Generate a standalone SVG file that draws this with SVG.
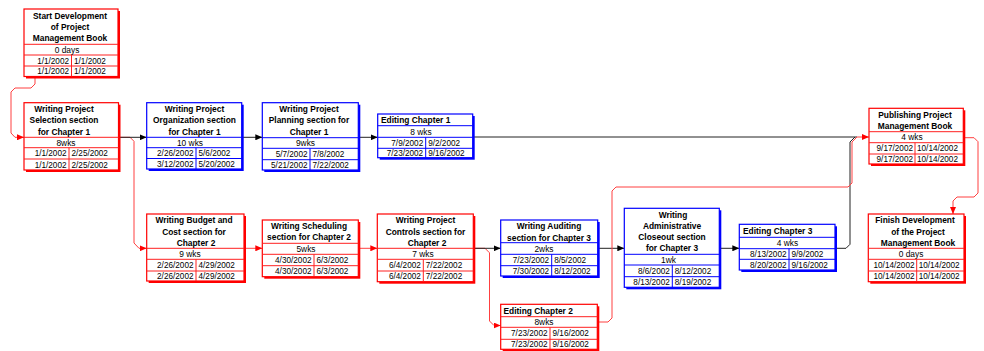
<svg xmlns="http://www.w3.org/2000/svg" width="984" height="351" viewBox="0 0 984 351">
<style>
text{font-family:"Liberation Sans",Arial,sans-serif;fill:#000}
.t{font-size:8.4px;font-weight:bold;text-anchor:middle}
.tl{font-size:8.4px;font-weight:bold;text-anchor:start}
.u{font-size:8.4px;text-anchor:middle}
.dl{font-size:8.2px;text-anchor:end}
.dr{font-size:8.2px;text-anchor:start}
.red .sh{fill:#ff0000}
.red .bx{fill:#fff;stroke:#ff0000;stroke-width:1.2}
.red .ln{stroke:#ff2020;stroke-width:1;fill:none}
.blue .sh{fill:#0000ff}
.blue .bx{fill:#fff;stroke:#0000ff;stroke-width:1.2}
.blue .ln{stroke:#0000ff;stroke-width:1;fill:none}
.ck{fill:none;stroke:#222;stroke-width:1}
.cr{fill:none;stroke:#ff4040;stroke-width:1}
</style>
<defs>
<marker id="ak" markerUnits="userSpaceOnUse" markerWidth="8" markerHeight="6" refX="7" refY="3" orient="auto"><path d="M0,0 L7,3 L0,6 z" fill="#000"/></marker>
<marker id="ar" markerUnits="userSpaceOnUse" markerWidth="8" markerHeight="6" refX="7" refY="3" orient="auto"><path d="M0,0 L7,3 L0,6 z" fill="#ff0000"/></marker>
</defs>

<g id="connectors">
<path class="cr" d="M35,77 V84 L31,88 H15 L11,92 V133 L15,137.3 H24" marker-end="url(#ar)"/>
<path class="cr" d="M118.5,137.3 H130 L134,141.3 V243 L139,248.3 H146.7" marker-end="url(#ar)"/>
<path class="ck" d="M118.5,137.3 H146.7" marker-end="url(#ak)"/>
<path class="ck" d="M241.7,137.3 H262.3" marker-end="url(#ak)"/>
<path class="ck" d="M358.3,137.3 H377.7" marker-end="url(#ak)"/>
<path class="ck" d="M472.7,137 H857"/>
<path class="cr" d="M244,248.3 H262.3" marker-end="url(#ar)"/>
<path class="cr" d="M358.3,248.3 H377.3" marker-end="url(#ar)"/>
<path class="cr" d="M473.3,248.3 H485 L489.5,252.8 V321 L494,325.5 H500.7" marker-end="url(#ar)"/>
<path class="ck" d="M473.3,248.3 H500.7" marker-end="url(#ak)"/>
<path class="ck" d="M597.7,248.3 H624.3" marker-end="url(#ak)"/>
<path class="ck" d="M719.3,248.3 H739.3" marker-end="url(#ak)"/>
<path class="ck" d="M835,248.3 H846 L850,244.3 V142 L855,137"/>
<path class="cr" d="M597.3,322 H608 L612,318 V191 L616,187 H848 L852,183 V142 L857,137 H869" marker-end="url(#ar)"/>
<path class="cr" d="M963.3,137.7 H974 L978,141.7 V193 L974,197 H957 L953,201 V214" marker-end="url(#ar)"/>
</g>

<g id="n1" class="red">
<rect class="sh" x="26" y="11" width="94" height="67.5"/>
<rect class="bx" x="24" y="9" width="94" height="67.5"/>
<path class="ln" d="M24,44.3 H118 M24,55 H118 M24,66 H118 M71.5,55 V76.5"/>
<text class="t" x="70" y="18.7">Start Development</text>
<text class="t" x="70" y="30">of Project</text>
<text class="t" x="70" y="41">Management Book</text>
<text class="u" x="67" y="52.7">0 days</text>
<text class="dl" x="69" y="63.5">1/1/2002</text><text class="dr" x="74" y="63.5">1/1/2002</text>
<text class="dl" x="69" y="74.2">1/1/2002</text><text class="dr" x="74" y="74.2">1/1/2002</text>
</g>

<g id="n2" class="red">
<rect class="sh" x="26" y="104.7" width="94.5" height="67.3"/>
<rect class="bx" x="24" y="102.7" width="94.5" height="67.3"/>
<path class="ln" d="M24,137.3 H118.5 M24,147.7 H118.5 M24,159 H118.5 M69,147.7 V170"/>
<text class="t" x="64" y="111.5">Writing Project</text>
<text class="t" x="64" y="123">Selection section</text>
<text class="t" x="64" y="134.5">for Chapter 1</text>
<text class="u" x="66" y="145.5">8wks</text>
<text class="dl" x="66.5" y="156.3">1/1/2002</text><text class="dr" x="71.5" y="156.3">2/25/2002</text>
<text class="dl" x="66.5" y="167.5">1/1/2002</text><text class="dr" x="71.5" y="167.5">2/25/2002</text>
</g>

<g id="n3" class="blue">
<rect class="sh" x="148.7" y="104.7" width="95" height="66.3"/>
<rect class="bx" x="146.7" y="102.7" width="95" height="66.3"/>
<path class="ln" d="M146.7,137.3 H241.7 M146.7,147.7 H241.7 M146.7,158.5 H241.7 M196,147.7 V169"/>
<text class="t" x="194.5" y="111.5">Writing Project</text>
<text class="t" x="194.5" y="123">Organization section</text>
<text class="t" x="194.5" y="134.5">for Chapter 1</text>
<text class="u" x="190" y="145.5">10 wks</text>
<text class="dl" x="193.5" y="156">2/26/2002</text><text class="dr" x="198.5" y="156">5/6/2002</text>
<text class="dl" x="193.5" y="166.8">3/12/2002</text><text class="dr" x="198.5" y="166.8">5/20/2002</text>
</g>

<g id="n4" class="blue">
<rect class="sh" x="264.3" y="104.7" width="96" height="67.3"/>
<rect class="bx" x="262.3" y="102.7" width="96" height="67.3"/>
<path class="ln" d="M262.3,137.7 H358.3 M262.3,148.3 H358.3 M262.3,159.7 H358.3 M310,148.3 V170"/>
<text class="t" x="309" y="111.5">Writing Project</text>
<text class="t" x="309" y="123">Planning section for</text>
<text class="t" x="309" y="134.5">Chapter 1</text>
<text class="u" x="305.5" y="146">9wks</text>
<text class="dl" x="307.5" y="157">5/7/2002</text><text class="dr" x="312.5" y="157">7/8/2002</text>
<text class="dl" x="307.5" y="168">5/21/2002</text><text class="dr" x="312.5" y="168">7/22/2002</text>
</g>

<g id="n5" class="blue">
<rect class="sh" x="379.7" y="116" width="95" height="43.7"/>
<rect class="bx" x="377.7" y="114" width="95" height="43.7"/>
<path class="ln" d="M377.7,125.7 H472.7 M377.7,137.3 H472.7 M377.7,148.3 H472.7 M425.7,137.3 V157.7"/>
<text class="tl" x="381" y="122.8">Editing Chapter 1</text>
<text class="u" x="421" y="134.5">8 wks</text>
<text class="dl" x="423.2" y="145.8">7/9/2002</text><text class="dr" x="428.2" y="145.8">9/2/2002</text>
<text class="dl" x="423.2" y="156">7/23/2002</text><text class="dr" x="428.2" y="156">9/16/2002</text>
</g>

<g id="n6" class="red">
<rect class="sh" x="871" y="110.3" width="94.3" height="55.7"/>
<rect class="bx" x="869" y="108.3" width="94.3" height="55.7"/>
<path class="ln" d="M869,131.7 H963.3 M869,142.7 H963.3 M869,154 H963.3 M915,142.7 V164"/>
<text class="t" x="915" y="118">Publishing Project</text>
<text class="t" x="915" y="129">Management Book</text>
<text class="u" x="912" y="140.2">4 wks</text>
<text class="dl" x="913" y="151.3">9/17/2002</text><text class="dr" x="917" y="151.3">10/14/2002</text>
<text class="dl" x="913" y="162">9/17/2002</text><text class="dr" x="917" y="162">10/14/2002</text>
</g>

<g id="n7" class="red">
<rect class="sh" x="148.7" y="216" width="97.3" height="67"/>
<rect class="bx" x="146.7" y="214" width="97.3" height="67"/>
<path class="ln" d="M146.7,248.3 H244 M146.7,259.3 H244 M146.7,271 H244 M196,259.3 V281"/>
<text class="t" x="194" y="223">Writing Budget and</text>
<text class="t" x="194" y="235.3">Cost section for</text>
<text class="t" x="196" y="245.7">Chapter 2</text>
<text class="u" x="190" y="256.8">9 wks</text>
<text class="dl" x="193.5" y="268.2">2/26/2002</text><text class="dr" x="198.5" y="268.2">4/29/2002</text>
<text class="dl" x="193.5" y="279">2/26/2002</text><text class="dr" x="198.5" y="279">4/29/2002</text>
</g>

<g id="n8" class="red">
<rect class="sh" x="264.3" y="222" width="96" height="56.7"/>
<rect class="bx" x="262.3" y="220" width="96" height="56.7"/>
<path class="ln" d="M262.3,243.3 H358.3 M262.3,254.3 H358.3 M262.3,265.7 H358.3 M314,254.3 V276.7"/>
<text class="t" x="309" y="229">Writing Scheduling</text>
<text class="t" x="309" y="240.3">section for Chapter 2</text>
<text class="u" x="306" y="251.8">5wks</text>
<text class="dl" x="311.5" y="263">4/30/2002</text><text class="dr" x="316.5" y="263">6/3/2002</text>
<text class="dl" x="311.5" y="274.2">4/30/2002</text><text class="dr" x="316.5" y="274.2">6/3/2002</text>
</g>

<g id="n9" class="red">
<rect class="sh" x="379.3" y="216" width="96" height="67.7"/>
<rect class="bx" x="377.3" y="214" width="96" height="67.7"/>
<path class="ln" d="M377.3,248.3 H473.3 M377.3,259.3 H473.3 M377.3,271 H473.3 M423.3,259.3 V281.7"/>
<text class="t" x="425.5" y="223">Writing Project</text>
<text class="t" x="425.5" y="235.3">Controls section for</text>
<text class="t" x="427" y="245.7">Chapter 2</text>
<text class="u" x="423" y="256.8">7 wks</text>
<text class="dl" x="420.8" y="268.2">6/4/2002</text><text class="dr" x="425.8" y="268.2">7/22/2002</text>
<text class="dl" x="420.8" y="279">6/4/2002</text><text class="dr" x="425.8" y="279">7/22/2002</text>
</g>

<g id="n10" class="blue">
<rect class="sh" x="502.7" y="222" width="97" height="56"/>
<rect class="bx" x="500.7" y="220" width="97" height="56"/>
<path class="ln" d="M500.7,242.7 H597.7 M500.7,254.3 H597.7 M500.7,265.7 H597.7 M551.7,254.3 V276"/>
<text class="t" x="549" y="229">Writing Auditing</text>
<text class="t" x="549" y="240.5">section for Chapter 3</text>
<text class="u" x="544" y="251.5">2wks</text>
<text class="dl" x="549.2" y="263">7/23/2002</text><text class="dr" x="554.2" y="263">8/5/2002</text>
<text class="dl" x="549.2" y="274">7/30/2002</text><text class="dr" x="554.2" y="274">8/12/2002</text>
</g>

<g id="n11" class="red">
<rect class="sh" x="502.7" y="306.3" width="96.6" height="45"/>
<rect class="bx" x="500.7" y="304.3" width="96.6" height="45"/>
<path class="ln" d="M500.7,316.7 H597.3 M500.7,327.3 H597.3 M500.7,339.3 H597.3 M550,327.3 V349.3"/>
<text class="tl" x="503.5" y="313.7">Editing Chapter 2</text>
<text class="u" x="544" y="325">8wks</text>
<text class="dl" x="547.5" y="336.3">7/23/2002</text><text class="dr" x="552.5" y="336.3">9/16/2002</text>
<text class="dl" x="547.5" y="347.3">7/23/2002</text><text class="dr" x="552.5" y="347.3">9/16/2002</text>
</g>

<g id="n12" class="blue">
<rect class="sh" x="626.3" y="210.3" width="95" height="79"/>
<rect class="bx" x="624.3" y="208.3" width="95" height="79"/>
<path class="ln" d="M624.3,254.3 H719.3 M624.3,265 H719.3 M624.3,276.7 H719.3 M672.3,265 V287.3"/>
<text class="t" x="673" y="218">Writing</text>
<text class="t" x="672" y="229">Administrative</text>
<text class="t" x="672" y="239.7">Closeout section</text>
<text class="t" x="672" y="251">for Chapter 3</text>
<text class="u" x="668.5" y="262.6">1wk</text>
<text class="dl" x="669.8" y="273.8">8/6/2002</text><text class="dr" x="674.8" y="273.8">8/12/2002</text>
<text class="dl" x="669.8" y="285">8/13/2002</text><text class="dr" x="674.8" y="285">8/19/2002</text>
</g>

<g id="n13" class="blue">
<rect class="sh" x="741.3" y="226.3" width="95.7" height="45.7"/>
<rect class="bx" x="739.3" y="224.3" width="95.7" height="45.7"/>
<path class="ln" d="M739.3,237.3 H835 M739.3,248.7 H835 M739.3,259.3 H835 M789,248.7 V270"/>
<text class="tl" x="743" y="233.8">Editing Chapter 3</text>
<text class="u" x="787.5" y="246">4 wks</text>
<text class="dl" x="786.5" y="257">8/13/2002</text><text class="dr" x="791.5" y="257">9/9/2002</text>
<text class="dl" x="786.5" y="267.7">8/20/2002</text><text class="dr" x="791.5" y="267.7">9/16/2002</text>
</g>

<g id="n14" class="red">
<rect class="sh" x="870.3" y="216" width="95.7" height="67.7"/>
<rect class="bx" x="868.3" y="214" width="95.7" height="67.7"/>
<path class="ln" d="M868.3,248.3 H964 M868.3,259.3 H964 M868.3,271 H964 M916.7,259.3 V281.7"/>
<text class="t" x="915" y="223">Finish Development</text>
<text class="t" x="918" y="234.7">of the Project</text>
<text class="t" x="918" y="245.7">Management Book</text>
<text class="u" x="911" y="256.8">0 days</text>
<text class="dl" x="914.5" y="268.2">10/14/2002</text><text class="dr" x="918.7" y="268.2">10/14/2002</text>
<text class="dl" x="914.5" y="279">10/14/2002</text><text class="dr" x="918.7" y="279">10/14/2002</text>
</g>
</svg>
